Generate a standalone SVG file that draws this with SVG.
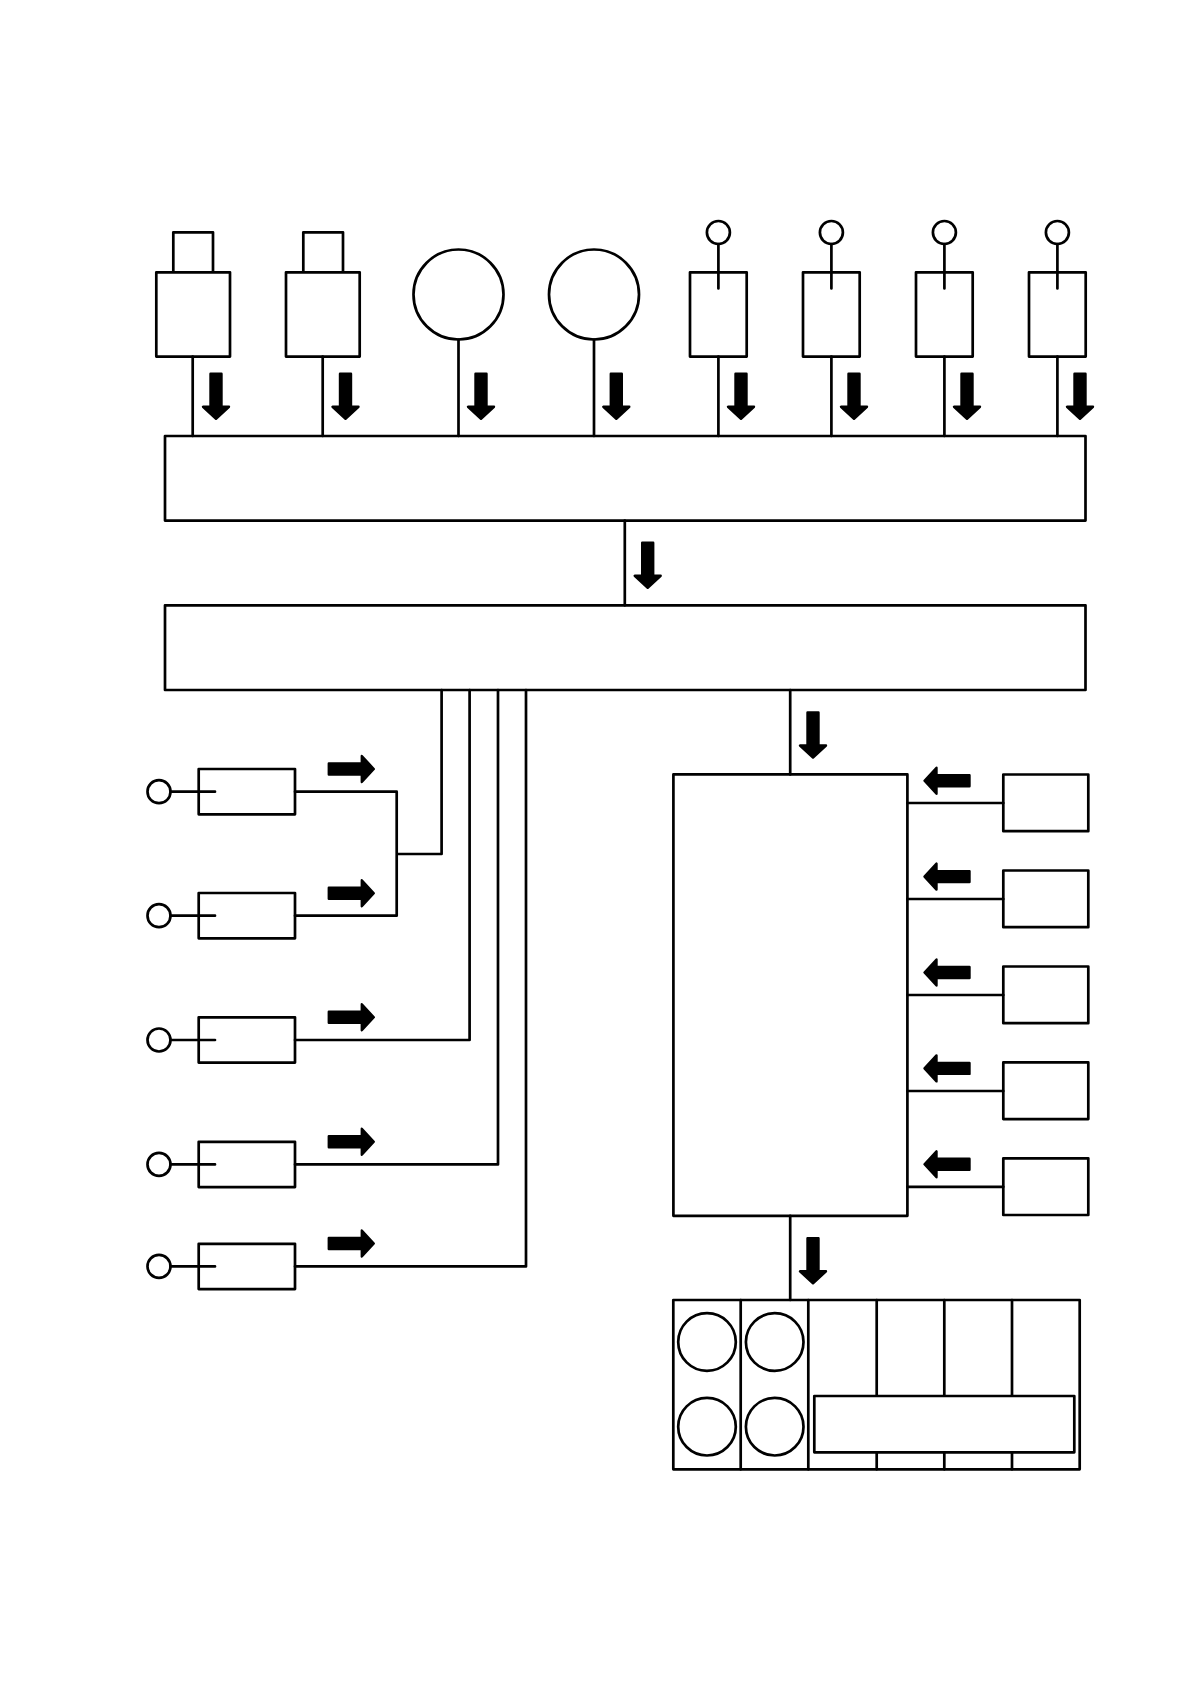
<svg xmlns="http://www.w3.org/2000/svg" width="1190" height="1684" viewBox="0 0 1190 1684">
<style>
.s{fill:#fff;stroke:#000;stroke-width:2.7;stroke-linejoin:round}
.l{fill:none;stroke:#000;stroke-width:2.7;stroke-linecap:round;stroke-linejoin:round}
.a{fill:#000;stroke:#000;stroke-width:2.4;stroke-linejoin:round}
</style>
<defs>
<path id="arrow" class="a" d="M-5.5-22.5H5.5V10.5H13L0 22.5-13 10.5H-5.5Z"/>
</defs>
<rect width="1190" height="1684" fill="#fff"/>
<g id="cam1"><rect class="s" x="173.3" y="232.3" width="39.7" height="40"/><rect class="s" x="156.3" y="272.3" width="73.7" height="84.3"/></g>
<g id="cam2"><rect class="s" x="303.3" y="232.3" width="39.7" height="40"/><rect class="s" x="286" y="272.3" width="73.7" height="84.3"/></g>
<g id="circle1"><circle class="s" cx="458.5" cy="294.5" r="45"/></g>
<g id="circle2"><circle class="s" cx="594" cy="294.5" r="45"/></g>
<g id="sensor1"><circle class="s" cx="718.4" cy="232.5" r="11.5"/><rect class="s" x="690" y="272.3" width="56.7" height="84.3"/></g>
<g id="sensor2"><circle class="s" cx="831.4" cy="232.5" r="11.5"/><rect class="s" x="803" y="272.3" width="56.7" height="84.3"/></g>
<g id="sensor3"><circle class="s" cx="944.4" cy="232.5" r="11.5"/><rect class="s" x="916" y="272.3" width="56.7" height="84.3"/></g>
<g id="sensor4"><circle class="s" cx="1057.4" cy="232.5" r="11.5"/><rect class="s" x="1029" y="272.3" width="56.7" height="84.3"/></g>
<g id="bar1"><rect class="s" x="165" y="436" width="920.5" height="84.6"/></g>
<g id="bar2"><rect class="s" x="165" y="605.3" width="920.5" height="84.7"/></g>
<g id="input1"><circle class="s" cx="159" cy="791.7" r="11.5"/><rect class="s" x="198.7" y="769" width="96.3" height="45.3"/></g>
<g id="input2"><circle class="s" cx="159" cy="915.7" r="11.5"/><rect class="s" x="198.7" y="893" width="96.3" height="45.3"/></g>
<g id="input3"><circle class="s" cx="159" cy="1040" r="11.5"/><rect class="s" x="198.7" y="1017.3" width="96.3" height="45.3"/></g>
<g id="input4"><circle class="s" cx="159" cy="1164.4" r="11.5"/><rect class="s" x="198.7" y="1141.8" width="96.3" height="45.3"/></g>
<g id="input5"><circle class="s" cx="159" cy="1266.4" r="11.5"/><rect class="s" x="198.7" y="1243.8" width="96.3" height="45.3"/></g>
<g id="main"><rect class="s" x="673.4" y="774.4" width="234" height="441.4"/></g>
<g id="side1"><rect class="s" x="1003.3" y="774.5" width="85" height="56.7"/></g>
<g id="side2"><rect class="s" x="1003.3" y="870.5" width="85" height="56.7"/></g>
<g id="side3"><rect class="s" x="1003.3" y="966.5" width="85" height="56.7"/></g>
<g id="side4"><rect class="s" x="1003.3" y="1062.4" width="85" height="56.7"/></g>
<g id="side5"><rect class="s" x="1003.3" y="1158.3" width="85" height="56.7"/></g>
<g id="panel">
<rect class="s" x="673.3" y="1300" width="406.4" height="169.3"/>
<path class="l" d="M740.7 1300V1469.3M808.3 1300V1469.3M876.7 1300V1469.3M944.3 1300V1469.3M1012 1300V1469.3"/>
<circle class="s" cx="707" cy="1342" r="28.8"/><circle class="s" cx="774.7" cy="1342" r="28.8"/>
<circle class="s" cx="707" cy="1426.7" r="28.8"/><circle class="s" cx="774.7" cy="1426.7" r="28.8"/>
<rect class="s" x="814.3" y="1396" width="260" height="56.3"/>
</g>
<g id="connectors">
<path class="l" d="M192.7 356.6V436M322.7 356.6V436M458.5 339.5V436M594 339.5V436M718.4 356.6V436M831.4 356.6V436M944.4 356.6V436M1057.4 356.6V436"/>
<path class="l" d="M718.4 244V288.5M831.4 244V288.5M944.4 244V288.5M1057.4 244V288.5"/>
<path class="l" d="M624.8 520.6V605.3M790.2 690V774.4M790.2 1215.8V1300"/>
<path class="l" d="M170.5 791.7H215M170.5 915.7H215M170.5 1040H215M170.5 1164.4H215M170.5 1266.4H215"/>
<path class="l" d="M295 791.7H396.7V915.7H295M396.7 854H441.6V690"/>
<path class="l" d="M295 1040H469.6V690M295 1164.4H498V690M295 1266.4H526V690"/>
<path class="l" d="M907.4 803H1003.3M907.4 899H1003.3M907.4 995H1003.3M907.4 1091H1003.3M907.4 1186.8H1003.3"/>
</g>
<g id="arrows">
<use href="#arrow" transform="translate(216 396.3)"/>
<use href="#arrow" transform="translate(345.5 396.3)"/>
<use href="#arrow" transform="translate(481 396.3)"/>
<use href="#arrow" transform="translate(616.3 396.3)"/>
<use href="#arrow" transform="translate(741 396.3)"/>
<use href="#arrow" transform="translate(854 396.3)"/>
<use href="#arrow" transform="translate(967 396.3)"/>
<use href="#arrow" transform="translate(1080 396.3)"/>
<use href="#arrow" transform="translate(647.7 565.3)"/>
<use href="#arrow" transform="translate(813 735)"/>
<use href="#arrow" transform="translate(813 1260.8)"/>
<use href="#arrow" transform="translate(351.3 769) rotate(-90)"/>
<use href="#arrow" transform="translate(351.3 893.3) rotate(-90)"/>
<use href="#arrow" transform="translate(351.3 1017.3) rotate(-90)"/>
<use href="#arrow" transform="translate(351.3 1141.8) rotate(-90)"/>
<use href="#arrow" transform="translate(351.3 1243.5) rotate(-90)"/>
<use href="#arrow" transform="translate(947 780.7) rotate(90)"/>
<use href="#arrow" transform="translate(947 876.6) rotate(90)"/>
<use href="#arrow" transform="translate(947 972.5) rotate(90)"/>
<use href="#arrow" transform="translate(947 1068.4) rotate(90)"/>
<use href="#arrow" transform="translate(947 1164.3) rotate(90)"/>
</g>
</svg>
